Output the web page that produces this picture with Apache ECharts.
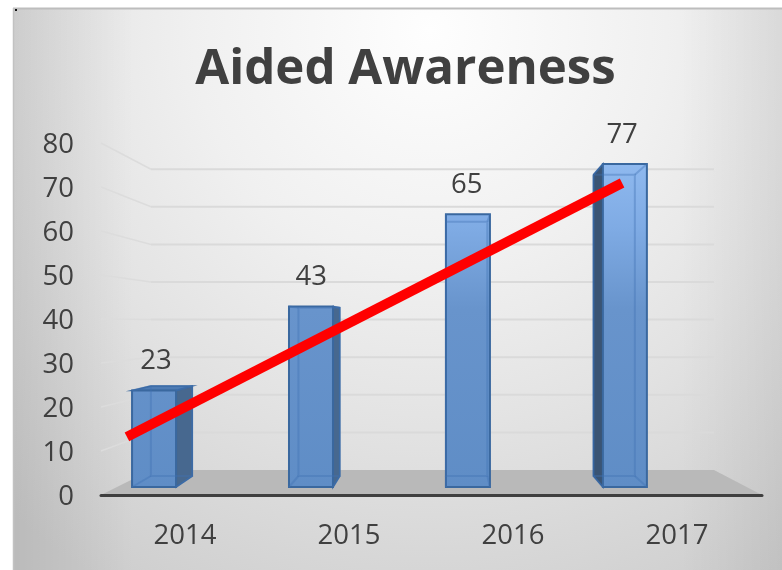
<!DOCTYPE html>
<html>
<head>
<meta charset="utf-8">
<style>html,body{margin:0;padding:0;background:#fff}#c{width:782px;height:570px}</style>
<script src="https://cdn.jsdelivr.net/npm/echarts@6/dist/echarts.min.js"></script>
</head>
<body>
<div id="c"></div>
<script>
const titleText = 'Aided Awareness';
const categories = ['2014', '2015', '2016', '2017'];
const awareness = [23, 43, 65, 77];
const wallTicks = [0, 10, 20, 30, 40, 50, 60, 70, 80];
const trendX = [-0.354, 2.665];
const trendY = [13.2, 70.9];

const TXT = '#404040';
const FONT = '"Open Sans", sans-serif';
// Oblique projection of the pseudo-3D plot box
const Y0 = 495, WALL_DROP = 25, WALL_SCALE = 0.1455;
const BAR_FRONT = 0.32, BAR_BACK = 0.76, BAR_HALF = 22;
const VANISH_X = 446, BACK_X = 0.94;
const project = (ypx, t) => Y0 - WALL_DROP * t - (Y0 - ypx) * (1 - WALL_SCALE * t);
const pts = a => ({ points: a });

function renderWall(params, api) {
  if (api.value(1) === 0) return { type: 'group', children: [] };
  const y = api.coord([0, api.value(1)])[1];
  const yb = project(y, 1);
  return {
    type: 'group', silent: true,
    children: [
      { type: 'line', shape: { x1: 101, y1: y, x2: 151, y2: yb }, style: { stroke: '#dcdcdc', lineWidth: 1.5 } },
      { type: 'line', shape: { x1: 151, y1: yb, x2: 714, y2: yb }, style: { stroke: '#dadada', lineWidth: 2 } }
    ]
  };
}
function renderFloor() {
  return {
    type: 'group', silent: true,
    children: [
      { type: 'polygon', shape: pts([[101, 495], [151, 470], [714, 470], [762, 495]]), style: { fill: '#b9b9b9' } },
      { type: 'line', shape: { x1: 101, y1: 495.5, x2: 762, y2: 495.5 }, style: { stroke: '#3f3f3f', lineWidth: 3, lineCap: 'round' } }
    ]
  };
}
function renderBar(params, api) {
  const v = api.value(1);
  const c = api.coord([api.value(0), v]);
  const base = api.coord([api.value(0), 0]);
  const xc = 0.957 * c[0] - 23;
  const fl = xc - BAR_HALF, fr = xc + BAR_HALF;
  const bx = x => VANISH_X + (x - VANISH_X) * BACK_X;
  const bl = bx(fl), br = bx(fr);
  const ft = project(c[1], BAR_FRONT), fb = project(base[1], BAR_FRONT);
  const bt = project(c[1], BAR_BACK), bb = project(base[1], BAR_BACK);
  const fill = {
    type: 'linear', x: 0, y: 163, x2: 0, y2: 487, global: true,
    colorStops: [{ offset: 0, color: '#8fb9ef' }, { offset: 0.2, color: '#7fabe4' }, { offset: 0.45, color: '#6894cc' }, { offset: 1, color: '#5f8dc6' }]
  };
  const edge = '#3a689f';
  const inner = 'rgba(62,112,178,0.38)';
  const kids = [];
  if (br > fr + 0.5) kids.push({ type: 'polygon', shape: pts([[fr, ft], [br, bt], [br, bb], [fr, fb]]), style: { fill: '#47688f', stroke: edge, lineWidth: 1.5 } });
  if (bl < fl - 0.5) kids.push({ type: 'polygon', shape: pts([[fl, ft], [bl, bt], [bl, bb], [fl, fb]]), style: { fill: '#3a5474', stroke: '#335f96', lineWidth: 1.5 } });
  if (bt < ft) kids.push({ type: 'polygon', shape: pts([[fl, ft], [fr, ft], [br, bt], [bl, bt]]), style: { fill: '#4d7bb4', stroke: edge, lineWidth: 1.5 } });
  kids.push({ type: 'rect', shape: { x: fl, y: ft, width: fr - fl, height: fb - ft }, style: { fill: fill, stroke: edge, lineWidth: 2 } });
  kids.push({ type: 'polyline', shape: pts([[bl, bt], [bl, bb], [br, bb], [br, bt], [bl, bt]]), style: { fill: null, stroke: inner, lineWidth: 2 } });
  kids.push({ type: 'line', shape: { x1: fl, y1: fb, x2: bl, y2: bb }, style: { stroke: inner, lineWidth: 2 } });
  kids.push({ type: 'line', shape: { x1: fr, y1: fb, x2: br, y2: bb }, style: { stroke: inner, lineWidth: 2 } });
  kids.push({ type: 'line', shape: { x1: fr, y1: ft, x2: br, y2: bt }, style: { stroke: inner, lineWidth: 2 } });
  kids.push({ type: 'line', shape: { x1: fl, y1: ft, x2: bl, y2: bt }, style: { stroke: inner, lineWidth: 2 } });
  const lx = VANISH_X + (xc - VANISH_X) * 0.99 - 1;
  kids.push({ type: 'text', style: { text: String(v), x: lx, y: ft - 29, fill: TXT, font: '27.5px ' + FONT, align: 'center', verticalAlign: 'middle' } });
  return { type: 'group', silent: true, children: kids };
}

const chart = echarts.init(document.getElementById('c'), null, { renderer: 'canvas' });
chart.setOption({
  animation: false,
  backgroundColor: '#ffffff',
  title: {
    text: titleText, left: 400.5, top: 40, textAlign: 'center',
    textStyle: { color: TXT, fontFamily: FONT, fontWeight: 'bold', fontSize: 49.2 }
  },
  graphic: {
    z: -1,
    elements: [
      {
        type: 'rect', z: -10, silent: true,
        shape: { x: 14, y: 8, width: 768, height: 562 },
        style: {
          fill: {
            type: 'radial', x: 430, y: 30, r: 640, global: true,
            colorStops: [{ offset: 0, color: '#fefefe' }, { offset: 0.37, color: '#f0f0f0' }, { offset: 0.62, color: '#e3e3e3' }, { offset: 1, color: '#cdcdcd' }]
          }
        }
      },
      {
        type: 'rect', z: -9, silent: true,
        shape: { x: 14, y: 8, width: 120, height: 562 },
        style: { fill: { type: 'linear', x: 0, y: 0, x2: 1, y2: 0, colorStops: [{ offset: 0, color: 'rgba(0,0,0,0.09)' }, { offset: 1, color: 'rgba(0,0,0,0)' }] } }
      },
      {
        type: 'rect', z: -9, silent: true,
        shape: { x: 680, y: 8, width: 102, height: 562 },
        style: { fill: { type: 'linear', x: 0, y: 0, x2: 1, y2: 0, colorStops: [{ offset: 0, color: 'rgba(0,0,0,0)' }, { offset: 1, color: 'rgba(0,0,0,0.06)' }] } }
      },
      { type: 'line', z: -8, silent: true, shape: { x1: 13, y1: 8.5, x2: 782, y2: 8.5 }, style: { stroke: '#bdbdbd', lineWidth: 2 } },
      { type: 'line', z: -8, silent: true, shape: { x1: 13.5, y1: 8, x2: 13.5, y2: 570 }, style: { stroke: '#c2c2c2', lineWidth: 1.5 } },
      { type: 'rect', z: -7, silent: true, shape: { x: 15, y: 9, width: 2, height: 2 }, style: { fill: '#111' } }
    ]
  },
  grid: { left: 103, top: 143, width: 656, height: 352, containLabel: false },
  xAxis: [
    {
      type: 'category', data: categories, boundaryGap: true,
      axisLine: { show: false }, axisTick: { show: false },
      axisLabel: { color: TXT, fontFamily: FONT, fontSize: 27.5, margin: 27 }
    },
    { type: 'value', min: -0.5, max: 3.5, show: false }
  ],
  yAxis: {
    type: 'value', min: 0, max: 80, interval: 10,
    axisLine: { show: false }, axisTick: { show: false }, splitLine: { show: false },
    axisLabel: {
      margin: 29, formatter: '{n|{value}}',
      rich: { n: { color: TXT, fontFamily: FONT, fontSize: 27.5, padding: [5, 0, 0, 0] } }
    }
  },
  series: [
    { type: 'custom', z: 1, clip: false, renderItem: renderFloor, data: [[0, 0]], silent: true },
    { type: 'custom', z: 2, clip: false, renderItem: renderWall, data: wallTicks.map(t => [0, t]), silent: true },
    { type: 'custom', z: 3, clip: false, renderItem: renderBar, data: awareness.map((v, i) => [i, v]), silent: true },
    {
      type: 'line', z: 4, xAxisIndex: 1, symbol: 'none', clip: false, silent: true,
      data: trendX.map((x, i) => [x, trendY[i]]),
      lineStyle: { color: '#ff0000', width: 10, cap: 'butt' }
    }
  ]
});
</script>
</body>
</html>
